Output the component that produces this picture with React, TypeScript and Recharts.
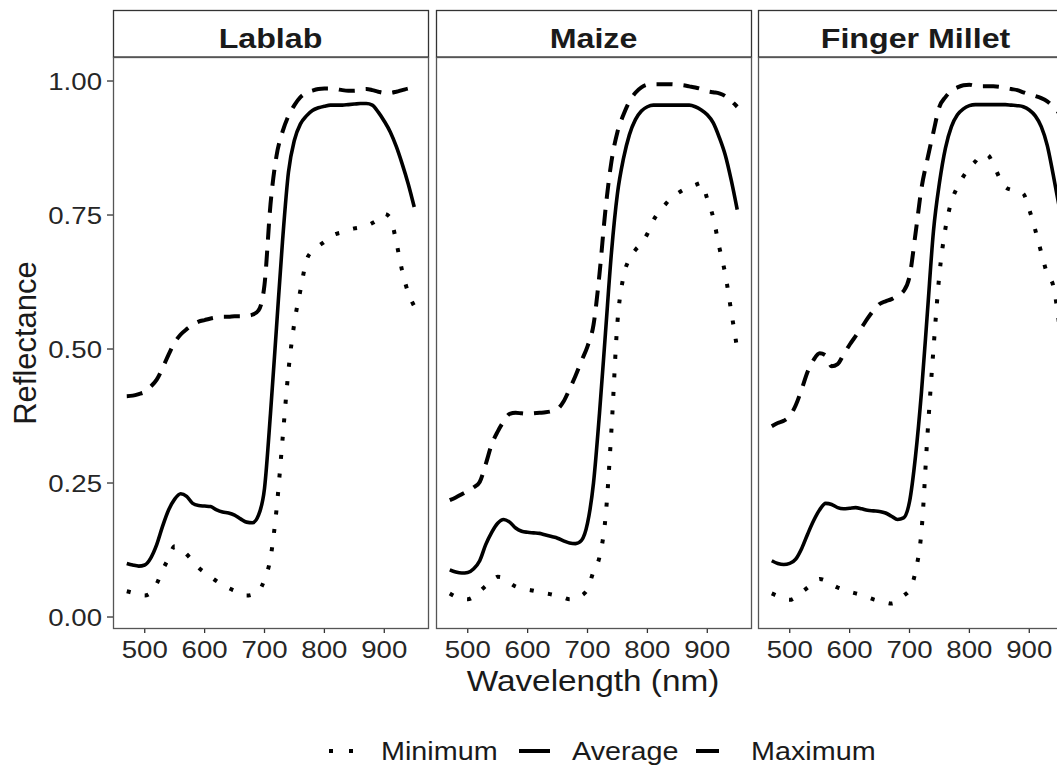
import React from 'react';
import { LineChart, Line, XAxis, YAxis } from 'recharts';

// wavelength grid (nm), shared by every panel
const wavelengths = [
  470, 480, 490, 500, 510, 520, 530, 540, 550, 560, 570, 580, 590, 600, 610, 620, 630,
  640, 650, 660, 670, 680, 690, 700, 710, 720, 730, 740, 750, 760, 770, 780, 790, 800,
  810, 820, 830, 840, 850, 860, 870, 880, 890, 900, 910, 920, 930, 940, 950,
];

const lablabMin = [
  0.048, 0.045, 0.041, 0.040, 0.045, 0.062, 0.088, 0.110, 0.132, 0.127, 0.117, 0.105, 0.092,
  0.083, 0.075, 0.067, 0.060, 0.054, 0.049, 0.044, 0.040, 0.042, 0.048, 0.070, 0.110, 0.200,
  0.330, 0.460, 0.550, 0.610, 0.665, 0.683, 0.692, 0.700, 0.710, 0.715, 0.718, 0.722, 0.725,
  0.727, 0.730, 0.735, 0.742, 0.752, 0.745, 0.700, 0.645, 0.605, 0.580,
];
const lablabAvg = [
  0.100, 0.097, 0.095, 0.097, 0.110, 0.135, 0.170, 0.200, 0.220, 0.230, 0.225, 0.212, 0.208,
  0.207, 0.206, 0.200, 0.196, 0.194, 0.190, 0.183, 0.177, 0.176, 0.190, 0.240, 0.380, 0.540,
  0.700, 0.830, 0.890, 0.920, 0.935, 0.945, 0.950, 0.953, 0.955, 0.955, 0.955, 0.956, 0.957,
  0.958, 0.958, 0.955, 0.942, 0.925, 0.905, 0.878, 0.845, 0.808, 0.765,
];
const lablabMax = [
  0.412, 0.413, 0.416, 0.420, 0.430, 0.443, 0.465, 0.490, 0.512, 0.527, 0.537, 0.545, 0.551,
  0.554, 0.557, 0.559, 0.560, 0.560, 0.561, 0.561, 0.562, 0.564, 0.572, 0.620, 0.770, 0.860,
  0.905, 0.935, 0.955, 0.970, 0.978, 0.982, 0.985, 0.986, 0.986, 0.985, 0.983, 0.982, 0.982,
  0.984, 0.985, 0.983, 0.980, 0.978, 0.978, 0.980, 0.983, 0.986, 0.988,
];

const maizeMin = [
  0.044, 0.038, 0.034, 0.033, 0.038, 0.048, 0.058, 0.067, 0.075, 0.073, 0.064, 0.057, 0.054,
  0.051, 0.049, 0.046, 0.044, 0.042, 0.039, 0.036, 0.033, 0.034, 0.040, 0.052, 0.085, 0.112,
  0.185, 0.350, 0.550, 0.635, 0.668, 0.685, 0.697, 0.715, 0.740, 0.757, 0.770, 0.782, 0.790,
  0.797, 0.802, 0.806, 0.810, 0.780, 0.745, 0.690, 0.640, 0.570, 0.500,
];
const maizeAvg = [
  0.088, 0.084, 0.082, 0.083, 0.090, 0.105, 0.135, 0.158, 0.175, 0.182, 0.177, 0.166, 0.160,
  0.158, 0.157, 0.156, 0.153, 0.150, 0.147, 0.142, 0.138, 0.137, 0.143, 0.175, 0.250, 0.380,
  0.530, 0.680, 0.790, 0.855, 0.900, 0.928, 0.944, 0.952, 0.955, 0.955, 0.955, 0.955, 0.955,
  0.955, 0.955, 0.952, 0.946, 0.937, 0.922, 0.895, 0.862, 0.815, 0.760,
];
const maizeMax = [
  0.218, 0.223, 0.229, 0.235, 0.242, 0.252, 0.285, 0.322, 0.346, 0.365, 0.379, 0.381, 0.380,
  0.379, 0.380, 0.381, 0.382, 0.384, 0.388, 0.402, 0.425, 0.450, 0.478, 0.505, 0.545, 0.640,
  0.760, 0.850, 0.905, 0.937, 0.962, 0.978, 0.988, 0.993, 0.994, 0.994, 0.994, 0.994, 0.993,
  0.992, 0.990, 0.988, 0.985, 0.981, 0.979, 0.977, 0.972, 0.963, 0.952,
];

const milletMin = [
  0.044, 0.039, 0.034, 0.032, 0.037, 0.046, 0.055, 0.064, 0.071, 0.068, 0.061, 0.055, 0.051,
  0.047, 0.044, 0.041, 0.037, 0.033, 0.030, 0.027, 0.025, 0.030, 0.040, 0.050, 0.085, 0.160,
  0.340, 0.500, 0.640, 0.725, 0.775, 0.802, 0.822, 0.838, 0.850, 0.862, 0.862, 0.845, 0.820,
  0.802, 0.797, 0.795, 0.790, 0.760, 0.722, 0.680, 0.640, 0.618, 0.545,
];
const milletAvg = [
  0.105, 0.100, 0.098, 0.100, 0.108, 0.128, 0.155, 0.180, 0.200, 0.212, 0.210, 0.204, 0.202,
  0.203, 0.204, 0.202, 0.199, 0.198, 0.197, 0.194, 0.188, 0.182, 0.185, 0.215, 0.300, 0.420,
  0.570, 0.720, 0.810, 0.875, 0.915, 0.937, 0.948, 0.954, 0.956, 0.956, 0.956, 0.956, 0.956,
  0.956, 0.955, 0.954, 0.952, 0.946, 0.935, 0.915, 0.880, 0.825, 0.765,
];
const milletMax = [
  0.356, 0.362, 0.366, 0.375, 0.395, 0.425, 0.458, 0.480, 0.492, 0.488, 0.468, 0.472, 0.490,
  0.508, 0.524, 0.540, 0.557, 0.572, 0.584, 0.589, 0.593, 0.600, 0.608, 0.635, 0.715, 0.800,
  0.855, 0.905, 0.952, 0.970, 0.982, 0.988, 0.992, 0.993, 0.991, 0.990, 0.990, 0.990, 0.989,
  0.987, 0.985, 0.983, 0.979, 0.975, 0.972, 0.968, 0.962, 0.952, 0.940,
];

const panels = [
  { name: 'Lablab', min: lablabMin, avg: lablabAvg, max: lablabMax },
  { name: 'Maize', min: maizeMin, avg: maizeAvg, max: maizeMax },
  { name: 'Finger Millet', min: milletMin, avg: milletAvg, max: milletMax },
];

const xTicks = [500, 600, 700, 800, 900];
const yTicks = [0, 0.25, 0.5, 0.75, 1];

const FONT = '"Liberation Sans", Arial, Helvetica, sans-serif';
const STRETCH = 1.15;
const PANEL_W = 315;
const PANEL_H = 571;
const PANEL_TOP = 57;
const PANEL_LEFTS = [113, 436, 758];
const Y_AXIS_W = 70;
const X_AXIS_H = 40;

const XTick = (props: any) => {
  const { x, y, payload } = props;
  return (
    <text
      transform={`translate(${x},${y}) scale(${STRETCH},1)`}
      dy={23}
      textAnchor="middle"
      fontSize={24}
      fontFamily={FONT}
      fill="#262626"
    >
      {payload.value}
    </text>
  );
};

const YTick = (props: any) => {
  const { x, y, payload } = props;
  return (
    <text
      transform={`translate(${x},${y}) scale(${STRETCH},1)`}
      dy={8.5}
      textAnchor="end"
      fontSize={24}
      fontFamily={FONT}
      fill="#262626"
    >
      {Number(payload.value).toFixed(2)}
    </text>
  );
};

const SText = ({ x, y, size, anchor = 'start', bold = false, children }: any) => (
  <text
    transform={`translate(${x},${y}) scale(${STRETCH},1)`}
    textAnchor={anchor}
    fontSize={size}
    fontFamily={FONT}
    fontWeight={bold ? 'bold' : 'normal'}
    fill="#1a1a1a"
  >
    {children}
  </text>
);

function Panel({ index }: { index: number }) {
  const p = panels[index];
  const data = wavelengths.map((wl, i) => ({
    wl,
    min: p.min[i],
    avg: p.avg[i],
    max: p.max[i],
  }));
  const first = index === 0;
  const left = PANEL_LEFTS[index] - (first ? Y_AXIS_W : 0);

  return (
    <div style={{ position: 'absolute', left, top: PANEL_TOP }}>
      <LineChart
        width={PANEL_W + (first ? Y_AXIS_W : 0)}
        height={PANEL_H + X_AXIS_H}
        data={data}
        margin={{ top: 0, right: 0, bottom: 0, left: 0 }}
      >
        <XAxis
          dataKey="wl"
          type="number"
          domain={[447, 973]}
          ticks={xTicks}
          axisLine={false}
          tickLine={{ stroke: '#333', strokeWidth: 1.3 }}
          tickSize={5}
          height={X_AXIS_H}
          tick={<XTick />}
          allowDataOverflow
        />
        <YAxis
          type="number"
          domain={[-0.0205, 1.0448]}
          ticks={yTicks}
          hide={!first}
          width={Y_AXIS_W}
          axisLine={false}
          tickLine={{ stroke: '#333', strokeWidth: 1.3 }}
          tickSize={6}
          tickMargin={5}
          tick={<YTick />}
          allowDataOverflow
        />
        <Line
          dataKey="min"
          type="monotone"
          stroke="#000"
          strokeWidth={4}
          strokeDasharray="4 14.5"
          dot={false}
          isAnimationActive={false}
        />
        <Line
          dataKey="avg"
          type="monotone"
          stroke="#000"
          strokeWidth={3.6}
          dot={false}
          isAnimationActive={false}
        />
        <Line
          dataKey="max"
          type="monotone"
          stroke="#000"
          strokeWidth={4}
          strokeDasharray="16 11"
          dot={false}
          isAnimationActive={false}
        />
      </LineChart>
    </div>
  );
}

export default function App() {
  return (
    <div
      style={{
        position: 'absolute',
        left: 0,
        top: 0,
        width: 1057,
        height: 767,
        overflow: 'hidden',
        background: '#fff',
      }}
    >
      {panels.map((p, i) => (
        <Panel key={p.name} index={i} />
      ))}
      <svg
        width={1057}
        height={767}
        style={{ position: 'absolute', left: 0, top: 0, pointerEvents: 'none' }}
      >
        {PANEL_LEFTS.map((x, i) => (
          <g key={i}>
            <rect x={x + 0.5} y={10.5} width={PANEL_W} height={PANEL_TOP - 10.5} fill="#fff" stroke="#333" strokeWidth={1.3} />
            <rect x={x + 0.5} y={PANEL_TOP + 0.5} width={PANEL_W} height={PANEL_H} fill="none" stroke="#555" strokeWidth={1.3} />
            <SText x={x + PANEL_W / 2} y={48} size={28} anchor="middle" bold>
              {panels[i].name}
            </SText>
          </g>
        ))}
        <text
          transform="translate(36,343) rotate(-90)"
          textAnchor="middle"
          fontSize={31}
          fontFamily={FONT}
          fill="#1a1a1a"
        >
          Reflectance
        </text>
        <SText x={593} y={691} size={29} anchor="middle">
          Wavelength (nm)
        </SText>
        {/* legend */}
        <rect x={329} y={749} width={4} height={4} fill="#000" />
        <rect x={349} y={749} width={4} height={4} fill="#000" />
        <SText x={381} y={760} size={25}>Minimum</SText>
        <line x1={519} y1={751} x2={550} y2={751} stroke="#000" strokeWidth={4} />
        <SText x={572} y={760} size={25}>Average</SText>
        <line x1={696} y1={751} x2={719} y2={751} stroke="#000" strokeWidth={4} />
        <SText x={751} y={760} size={25}>Maximum</SText>
      </svg>
    </div>
  );
}
